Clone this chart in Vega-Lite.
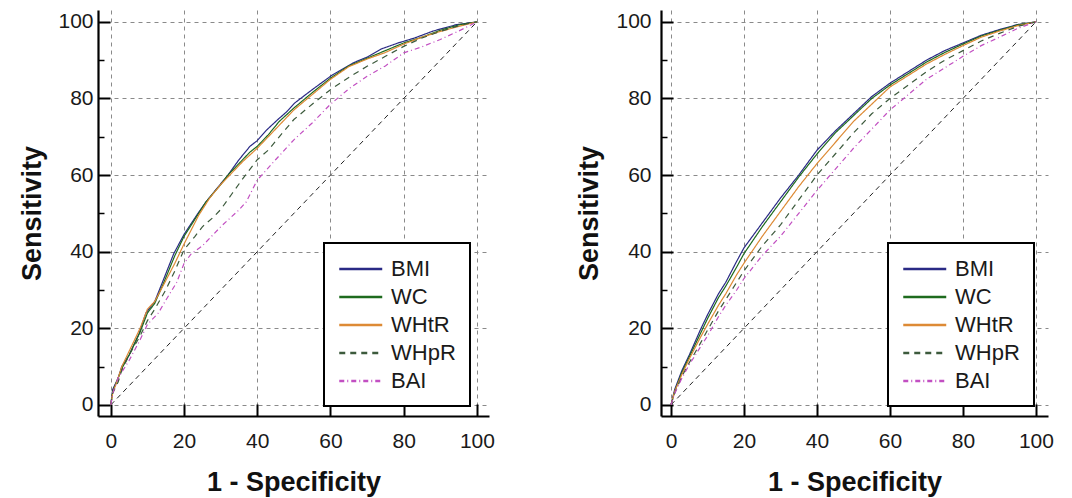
{
  "$schema": "https://vega.github.io/schema/vega-lite/v6.json",
  "background": "white",
  "padding": {"left": 18, "top": 10, "right": 5, "bottom": 5},
  "spacing": 80,
  "config": {
    "view": {"stroke": null},
    "font": "Liberation Sans",
    "axis": {
      "domainColor": "#000",
      "domainWidth": 2.2,
      "tickColor": "#000",
      "gridColor": "#8a8a8a",
      "gridDash": [4, 4],
      "gridWidth": 1,
      "labelFont": "Liberation Sans",
      "labelFontSize": 21,
      "labelColor": "#1a1a1a",
      "labelOverlap": false,
      "labelBound": false,
      "titleFont": "Liberation Sans",
      "titleFontSize": 27,
      "titleFontWeight": "bold",
      "titleColor": "#111"
    },
    "legend": {
      "orient": "none",
      "title": null,
      "symbolType": "M-1,0H3",
      "symbolSize": 462,
      "symbolStrokeWidth": 2.5,
      "labelFont": "Liberation Sans",
      "labelFontSize": 22,
      "labelColor": "#1a1a1a",
      "labelOffset": 29,
      "padding": 14,
      "rowPadding": 5,
      "strokeColor": "#000",
      "fillColor": "white"
    }
  },
  "datasets": {
    "diag": [{"x": 0, "y": 0}, {"x": 100, "y": 100}],
    "roc": [
      {"p":"L","s":"BMI","x":0,"y":0},{"p":"L","s":"BMI","x":0.5,"y":4},{"p":"L","s":"BMI","x":2,"y":7},{"p":"L","s":"BMI","x":3,"y":10},{"p":"L","s":"BMI","x":5,"y":13},{"p":"L","s":"BMI","x":7.7,"y":18.6},{"p":"L","s":"BMI","x":9.6,"y":24},{"p":"L","s":"BMI","x":12,"y":27},{"p":"L","s":"BMI","x":14.3,"y":32.5},{"p":"L","s":"BMI","x":17.2,"y":39.5},{"p":"L","s":"BMI","x":20,"y":44.5},{"p":"L","s":"BMI","x":23.8,"y":50},{"p":"L","s":"BMI","x":26,"y":53},{"p":"L","s":"BMI","x":29.4,"y":57},{"p":"L","s":"BMI","x":32,"y":60},{"p":"L","s":"BMI","x":35,"y":64},{"p":"L","s":"BMI","x":38,"y":67.5},{"p":"L","s":"BMI","x":40,"y":69},{"p":"L","s":"BMI","x":42.6,"y":71.8},{"p":"L","s":"BMI","x":45.5,"y":74.4},{"p":"L","s":"BMI","x":48,"y":76.5},{"p":"L","s":"BMI","x":50.2,"y":78.8},{"p":"L","s":"BMI","x":55,"y":82.3},{"p":"L","s":"BMI","x":60.6,"y":86.2},{"p":"L","s":"BMI","x":66.2,"y":89.3},{"p":"L","s":"BMI","x":70,"y":90.8},{"p":"L","s":"BMI","x":73.8,"y":92.9},{"p":"L","s":"BMI","x":78.5,"y":94.5},{"p":"L","s":"BMI","x":83,"y":95.8},{"p":"L","s":"BMI","x":88,"y":97.6},{"p":"L","s":"BMI","x":94.5,"y":99.3},{"p":"L","s":"BMI","x":97,"y":99.6},{"p":"L","s":"BMI","x":100,"y":100},

      {"p":"L","s":"WC","x":0,"y":0},{"p":"L","s":"WC","x":0.5,"y":3.5},{"p":"L","s":"WC","x":2,"y":7},{"p":"L","s":"WC","x":3,"y":9.5},{"p":"L","s":"WC","x":5,"y":13},{"p":"L","s":"WC","x":8,"y":19},{"p":"L","s":"WC","x":10,"y":24},{"p":"L","s":"WC","x":12,"y":26.5},{"p":"L","s":"WC","x":14.5,"y":32},{"p":"L","s":"WC","x":17.5,"y":39},{"p":"L","s":"WC","x":20,"y":44},{"p":"L","s":"WC","x":24,"y":50},{"p":"L","s":"WC","x":26,"y":53},{"p":"L","s":"WC","x":30,"y":57.5},{"p":"L","s":"WC","x":32,"y":60},{"p":"L","s":"WC","x":35,"y":63},{"p":"L","s":"WC","x":38,"y":66},{"p":"L","s":"WC","x":40,"y":67.5},{"p":"L","s":"WC","x":43,"y":70.5},{"p":"L","s":"WC","x":46,"y":74},{"p":"L","s":"WC","x":50,"y":77.5},{"p":"L","s":"WC","x":55,"y":81.5},{"p":"L","s":"WC","x":60,"y":85.3},{"p":"L","s":"WC","x":65,"y":88.5},{"p":"L","s":"WC","x":70,"y":90.5},{"p":"L","s":"WC","x":75,"y":92.5},{"p":"L","s":"WC","x":80,"y":94.5},{"p":"L","s":"WC","x":85,"y":96},{"p":"L","s":"WC","x":90,"y":97.8},{"p":"L","s":"WC","x":95,"y":99.2},{"p":"L","s":"WC","x":100,"y":100},

      {"p":"L","s":"WHtR","x":0,"y":0},{"p":"L","s":"WHtR","x":0.5,"y":3},{"p":"L","s":"WHtR","x":2,"y":7},{"p":"L","s":"WHtR","x":3,"y":10},{"p":"L","s":"WHtR","x":5,"y":14},{"p":"L","s":"WHtR","x":8,"y":20},{"p":"L","s":"WHtR","x":10,"y":25},{"p":"L","s":"WHtR","x":12,"y":27},{"p":"L","s":"WHtR","x":14.5,"y":31.5},{"p":"L","s":"WHtR","x":17.5,"y":37},{"p":"L","s":"WHtR","x":20,"y":42},{"p":"L","s":"WHtR","x":24,"y":49.5},{"p":"L","s":"WHtR","x":27,"y":54},{"p":"L","s":"WHtR","x":30,"y":57.5},{"p":"L","s":"WHtR","x":33,"y":60.5},{"p":"L","s":"WHtR","x":36,"y":63.5},{"p":"L","s":"WHtR","x":40,"y":67},{"p":"L","s":"WHtR","x":43,"y":70},{"p":"L","s":"WHtR","x":47,"y":74},{"p":"L","s":"WHtR","x":50,"y":77},{"p":"L","s":"WHtR","x":55,"y":81},{"p":"L","s":"WHtR","x":60,"y":85},{"p":"L","s":"WHtR","x":65,"y":88.3},{"p":"L","s":"WHtR","x":70,"y":90.3},{"p":"L","s":"WHtR","x":75,"y":92},{"p":"L","s":"WHtR","x":80,"y":94.2},{"p":"L","s":"WHtR","x":85,"y":96},{"p":"L","s":"WHtR","x":90,"y":97.5},{"p":"L","s":"WHtR","x":95,"y":98.8},{"p":"L","s":"WHtR","x":100,"y":100},

      {"p":"L","s":"WHpR","x":0,"y":0},{"p":"L","s":"WHpR","x":0.5,"y":3},{"p":"L","s":"WHpR","x":2,"y":6},{"p":"L","s":"WHpR","x":3,"y":9},{"p":"L","s":"WHpR","x":5,"y":13},{"p":"L","s":"WHpR","x":8,"y":18},{"p":"L","s":"WHpR","x":10,"y":22},{"p":"L","s":"WHpR","x":12,"y":25},{"p":"L","s":"WHpR","x":15,"y":30},{"p":"L","s":"WHpR","x":17.5,"y":35},{"p":"L","s":"WHpR","x":20,"y":40.5},{"p":"L","s":"WHpR","x":23,"y":44},{"p":"L","s":"WHpR","x":25,"y":46.5},{"p":"L","s":"WHpR","x":28,"y":49},{"p":"L","s":"WHpR","x":30,"y":51},{"p":"L","s":"WHpR","x":33,"y":55},{"p":"L","s":"WHpR","x":36,"y":59},{"p":"L","s":"WHpR","x":40,"y":64},{"p":"L","s":"WHpR","x":43,"y":66.5},{"p":"L","s":"WHpR","x":46,"y":70},{"p":"L","s":"WHpR","x":50,"y":74.5},{"p":"L","s":"WHpR","x":55,"y":78.5},{"p":"L","s":"WHpR","x":60,"y":82.3},{"p":"L","s":"WHpR","x":65,"y":85.5},{"p":"L","s":"WHpR","x":70,"y":88.4},{"p":"L","s":"WHpR","x":75,"y":91},{"p":"L","s":"WHpR","x":80,"y":93.6},{"p":"L","s":"WHpR","x":85,"y":95.8},{"p":"L","s":"WHpR","x":90,"y":97.5},{"p":"L","s":"WHpR","x":95,"y":99},{"p":"L","s":"WHpR","x":100,"y":100},

      {"p":"L","s":"BAI","x":0,"y":0},{"p":"L","s":"BAI","x":0.5,"y":3},{"p":"L","s":"BAI","x":2,"y":7},{"p":"L","s":"BAI","x":5,"y":11.6},{"p":"L","s":"BAI","x":8,"y":17},{"p":"L","s":"BAI","x":10,"y":21},{"p":"L","s":"BAI","x":13,"y":24},{"p":"L","s":"BAI","x":15,"y":27.3},{"p":"L","s":"BAI","x":18,"y":32},{"p":"L","s":"BAI","x":20,"y":36.9},{"p":"L","s":"BAI","x":22,"y":39.5},{"p":"L","s":"BAI","x":25,"y":41.5},{"p":"L","s":"BAI","x":30,"y":46.5},{"p":"L","s":"BAI","x":35,"y":50.9},{"p":"L","s":"BAI","x":37,"y":53},{"p":"L","s":"BAI","x":40,"y":58.7},{"p":"L","s":"BAI","x":45,"y":64},{"p":"L","s":"BAI","x":50,"y":69.2},{"p":"L","s":"BAI","x":55,"y":73.6},{"p":"L","s":"BAI","x":60,"y":78.5},{"p":"L","s":"BAI","x":65,"y":82.5},{"p":"L","s":"BAI","x":70,"y":85.8},{"p":"L","s":"BAI","x":75,"y":88.5},{"p":"L","s":"BAI","x":80,"y":91.9},{"p":"L","s":"BAI","x":85,"y":93.5},{"p":"L","s":"BAI","x":90,"y":95.4},{"p":"L","s":"BAI","x":95,"y":97.6},{"p":"L","s":"BAI","x":98,"y":99},{"p":"L","s":"BAI","x":100,"y":100},

      {"p":"R","s":"BMI","x":0,"y":0},{"p":"R","s":"BMI","x":1,"y":4},{"p":"R","s":"BMI","x":3,"y":9},{"p":"R","s":"BMI","x":5,"y":13},{"p":"R","s":"BMI","x":8,"y":19.5},{"p":"R","s":"BMI","x":10,"y":23.5},{"p":"R","s":"BMI","x":13,"y":29},{"p":"R","s":"BMI","x":15,"y":32},{"p":"R","s":"BMI","x":18,"y":37.5},{"p":"R","s":"BMI","x":20,"y":41},{"p":"R","s":"BMI","x":25,"y":47.5},{"p":"R","s":"BMI","x":30,"y":54},{"p":"R","s":"BMI","x":35,"y":60},{"p":"R","s":"BMI","x":40,"y":66.5},{"p":"R","s":"BMI","x":45,"y":71.5},{"p":"R","s":"BMI","x":50,"y":76},{"p":"R","s":"BMI","x":55,"y":80.5},{"p":"R","s":"BMI","x":60,"y":84},{"p":"R","s":"BMI","x":65,"y":87},{"p":"R","s":"BMI","x":70,"y":90},{"p":"R","s":"BMI","x":75,"y":92.5},{"p":"R","s":"BMI","x":80,"y":94.5},{"p":"R","s":"BMI","x":85,"y":96.5},{"p":"R","s":"BMI","x":90,"y":98},{"p":"R","s":"BMI","x":95,"y":99.3},{"p":"R","s":"BMI","x":100,"y":100},

      {"p":"R","s":"WC","x":0,"y":0},{"p":"R","s":"WC","x":1,"y":3.5},{"p":"R","s":"WC","x":3,"y":8.5},{"p":"R","s":"WC","x":5,"y":12.5},{"p":"R","s":"WC","x":8,"y":18.5},{"p":"R","s":"WC","x":10,"y":22.5},{"p":"R","s":"WC","x":13,"y":28},{"p":"R","s":"WC","x":15,"y":31},{"p":"R","s":"WC","x":18,"y":36},{"p":"R","s":"WC","x":20,"y":39.5},{"p":"R","s":"WC","x":25,"y":46.5},{"p":"R","s":"WC","x":30,"y":53},{"p":"R","s":"WC","x":35,"y":59.5},{"p":"R","s":"WC","x":40,"y":65.5},{"p":"R","s":"WC","x":45,"y":71},{"p":"R","s":"WC","x":50,"y":75.5},{"p":"R","s":"WC","x":55,"y":80},{"p":"R","s":"WC","x":60,"y":83.5},{"p":"R","s":"WC","x":65,"y":86.5},{"p":"R","s":"WC","x":70,"y":89.5},{"p":"R","s":"WC","x":75,"y":92},{"p":"R","s":"WC","x":80,"y":94.2},{"p":"R","s":"WC","x":85,"y":96.3},{"p":"R","s":"WC","x":90,"y":97.8},{"p":"R","s":"WC","x":95,"y":99.2},{"p":"R","s":"WC","x":100,"y":100},

      {"p":"R","s":"WHtR","x":0,"y":0},{"p":"R","s":"WHtR","x":1,"y":3.5},{"p":"R","s":"WHtR","x":3,"y":8},{"p":"R","s":"WHtR","x":5,"y":12},{"p":"R","s":"WHtR","x":8,"y":17.5},{"p":"R","s":"WHtR","x":10,"y":21},{"p":"R","s":"WHtR","x":13,"y":26},{"p":"R","s":"WHtR","x":15,"y":29},{"p":"R","s":"WHtR","x":18,"y":34},{"p":"R","s":"WHtR","x":20,"y":37},{"p":"R","s":"WHtR","x":25,"y":44},{"p":"R","s":"WHtR","x":30,"y":50.5},{"p":"R","s":"WHtR","x":35,"y":57},{"p":"R","s":"WHtR","x":40,"y":63},{"p":"R","s":"WHtR","x":45,"y":68.5},{"p":"R","s":"WHtR","x":50,"y":74},{"p":"R","s":"WHtR","x":55,"y":78.5},{"p":"R","s":"WHtR","x":60,"y":83},{"p":"R","s":"WHtR","x":65,"y":86},{"p":"R","s":"WHtR","x":70,"y":89},{"p":"R","s":"WHtR","x":75,"y":91.5},{"p":"R","s":"WHtR","x":80,"y":93.8},{"p":"R","s":"WHtR","x":85,"y":96},{"p":"R","s":"WHtR","x":90,"y":97.6},{"p":"R","s":"WHtR","x":95,"y":99},{"p":"R","s":"WHtR","x":100,"y":100},

      {"p":"R","s":"WHpR","x":0,"y":0},{"p":"R","s":"WHpR","x":1,"y":3},{"p":"R","s":"WHpR","x":3,"y":7.5},{"p":"R","s":"WHpR","x":5,"y":11},{"p":"R","s":"WHpR","x":8,"y":16},{"p":"R","s":"WHpR","x":10,"y":19.5},{"p":"R","s":"WHpR","x":13,"y":24.5},{"p":"R","s":"WHpR","x":15,"y":27.5},{"p":"R","s":"WHpR","x":18,"y":32},{"p":"R","s":"WHpR","x":20,"y":35},{"p":"R","s":"WHpR","x":25,"y":41.5},{"p":"R","s":"WHpR","x":30,"y":47},{"p":"R","s":"WHpR","x":35,"y":53.5},{"p":"R","s":"WHpR","x":40,"y":60},{"p":"R","s":"WHpR","x":45,"y":65.5},{"p":"R","s":"WHpR","x":50,"y":71},{"p":"R","s":"WHpR","x":55,"y":76},{"p":"R","s":"WHpR","x":60,"y":80},{"p":"R","s":"WHpR","x":65,"y":83.5},{"p":"R","s":"WHpR","x":70,"y":87},{"p":"R","s":"WHpR","x":75,"y":90},{"p":"R","s":"WHpR","x":80,"y":92.5},{"p":"R","s":"WHpR","x":85,"y":95},{"p":"R","s":"WHpR","x":90,"y":97},{"p":"R","s":"WHpR","x":95,"y":98.8},{"p":"R","s":"WHpR","x":100,"y":100},

      {"p":"R","s":"BAI","x":0,"y":0},{"p":"R","s":"BAI","x":1,"y":3},{"p":"R","s":"BAI","x":3,"y":7},{"p":"R","s":"BAI","x":5,"y":10.5},{"p":"R","s":"BAI","x":8,"y":15},{"p":"R","s":"BAI","x":10,"y":18},{"p":"R","s":"BAI","x":13,"y":23},{"p":"R","s":"BAI","x":15,"y":26},{"p":"R","s":"BAI","x":18,"y":30},{"p":"R","s":"BAI","x":20,"y":33},{"p":"R","s":"BAI","x":25,"y":39},{"p":"R","s":"BAI","x":30,"y":44},{"p":"R","s":"BAI","x":35,"y":50},{"p":"R","s":"BAI","x":40,"y":56},{"p":"R","s":"BAI","x":45,"y":61.5},{"p":"R","s":"BAI","x":50,"y":67},{"p":"R","s":"BAI","x":55,"y":72},{"p":"R","s":"BAI","x":60,"y":77},{"p":"R","s":"BAI","x":65,"y":81},{"p":"R","s":"BAI","x":70,"y":85},{"p":"R","s":"BAI","x":75,"y":88},{"p":"R","s":"BAI","x":80,"y":91},{"p":"R","s":"BAI","x":85,"y":93.8},{"p":"R","s":"BAI","x":90,"y":96},{"p":"R","s":"BAI","x":95,"y":98.3},{"p":"R","s":"BAI","x":100,"y":100}
    ]
  },
  "resolve": {"scale": {"color": "independent", "strokeDash": "independent"}, "legend": {"color": "independent", "strokeDash": "independent"}},
  "hconcat": [
    {
      "width": 391,
      "height": 406,
      "layer": [
        {
          "data": {"name": "diag"},
          "mark": {"type": "line", "color": "#222", "strokeDash": [5, 4], "strokeWidth": 1},
          "encoding": {
            "x": {"field": "x", "type": "quantitative", "scale": {"domain": [-3.5, 103.3], "nice": false, "zero": false},
              "axis": {"title": "1 - Specificity", "titlePadding": 18, "values": [0,5,10,15,20,25,30,35,40,45,50,55,60,65,70,75,80,85,90,95,100],
                "labelExpr": "datum.value % 20 === 0 ? datum.label : ''", "labelPadding": 26,
                "tickSize": {"condition": {"test": "datum.value % 20 === 0", "value": -12}, "value": -6},
                "tickWidth": {"condition": {"test": "datum.value % 20 === 0", "value": 2}, "value": 1.5},
                "gridOpacity": {"condition": {"test": "datum.value % 20 === 0", "value": 1}, "value": 0}}},
            "y": {"field": "y", "type": "quantitative", "scale": {"domain": [-2.9, 103.1], "nice": false, "zero": false},
              "axis": {"title": "Sensitivity", "titlePadding": 11, "values": [0,5,10,15,20,25,30,35,40,45,50,55,60,65,70,75,80,85,90,95,100],
                "labelExpr": "datum.value % 20 === 0 ? datum.label : ''", "labelPadding": 17,
                "tickSize": {"condition": {"test": "datum.value % 20 === 0", "value": -12}, "value": -6},
                "tickWidth": {"condition": {"test": "datum.value % 20 === 0", "value": 2}, "value": 1.5},
                "gridOpacity": {"condition": {"test": "datum.value % 20 === 0", "value": 1}, "value": 0}}}
          }
        },
        {
          "data": {"name": "roc"},
          "transform": [{"filter": "datum.p === 'L'"}],
          "mark": {"type": "line", "strokeWidth": 1.2},
          "encoding": {
            "x": {"field": "x", "type": "quantitative"},
            "y": {"field": "y", "type": "quantitative"},
            "color": {"field": "s", "type": "nominal",
              "scale": {"domain": ["BMI", "WC", "WHtR", "WHpR", "BAI"], "range": ["#2a2a85", "#1e6b1e", "#dd8a35", "#3c5a3c", "#c24fc2"]},
              "legend": {"legendX": 226, "legendY": 233, "encode": {"legend": {"update": {"strokeWidth": {"value": 2}}}}}},
            "strokeDash": {"field": "s", "type": "nominal",
              "scale": {"domain": ["BMI", "WC", "WHtR", "WHpR", "BAI"], "range": [[1, 0], [1, 0], [1, 0], [6, 5], [5, 3, 1, 3]]},
              "legend": {"legendX": 226, "legendY": 233, "encode": {"legend": {"update": {"strokeWidth": {"value": 2}}}}}}
          }
        }
      ]
    },
    {
      "width": 387,
      "height": 406,
      "layer": [
        {
          "data": {"name": "diag"},
          "mark": {"type": "line", "color": "#222", "strokeDash": [5, 4], "strokeWidth": 1},
          "encoding": {
            "x": {"field": "x", "type": "quantitative", "scale": {"domain": [-2.74, 103.3], "nice": false, "zero": false},
              "axis": {"title": "1 - Specificity", "titlePadding": 18, "values": [0,5,10,15,20,25,30,35,40,45,50,55,60,65,70,75,80,85,90,95,100],
                "labelExpr": "datum.value % 20 === 0 ? datum.label : ''", "labelPadding": 26,
                "tickSize": {"condition": {"test": "datum.value % 20 === 0", "value": -12}, "value": -6},
                "tickWidth": {"condition": {"test": "datum.value % 20 === 0", "value": 2}, "value": 1.5},
                "gridOpacity": {"condition": {"test": "datum.value % 20 === 0", "value": 1}, "value": 0}}},
            "y": {"field": "y", "type": "quantitative", "scale": {"domain": [-2.9, 103.1], "nice": false, "zero": false},
              "axis": {"title": "Sensitivity", "titlePadding": 12, "values": [0,5,10,15,20,25,30,35,40,45,50,55,60,65,70,75,80,85,90,95,100],
                "labelExpr": "datum.value % 20 === 0 ? datum.label : ''", "labelPadding": 22,
                "tickSize": {"condition": {"test": "datum.value % 20 === 0", "value": -12}, "value": -6},
                "tickWidth": {"condition": {"test": "datum.value % 20 === 0", "value": 2}, "value": 1.5},
                "gridOpacity": {"condition": {"test": "datum.value % 20 === 0", "value": 1}, "value": 0}}}
          }
        },
        {
          "data": {"name": "roc"},
          "transform": [{"filter": "datum.p === 'R'"}],
          "mark": {"type": "line", "strokeWidth": 1.2},
          "encoding": {
            "x": {"field": "x", "type": "quantitative"},
            "y": {"field": "y", "type": "quantitative"},
            "color": {"field": "s", "type": "nominal",
              "scale": {"domain": ["BMI", "WC", "WHtR", "WHpR", "BAI"], "range": ["#2a2a85", "#1e6b1e", "#dd8a35", "#3c5a3c", "#c24fc2"]},
              "legend": {"legendX": 227, "legendY": 233, "encode": {"legend": {"update": {"strokeWidth": {"value": 2}}}}}},
            "strokeDash": {"field": "s", "type": "nominal",
              "scale": {"domain": ["BMI", "WC", "WHtR", "WHpR", "BAI"], "range": [[1, 0], [1, 0], [1, 0], [6, 5], [5, 3, 1, 3]]},
              "legend": {"legendX": 227, "legendY": 233, "encode": {"legend": {"update": {"strokeWidth": {"value": 2}}}}}}
          }
        }
      ]
    }
  ]
}
